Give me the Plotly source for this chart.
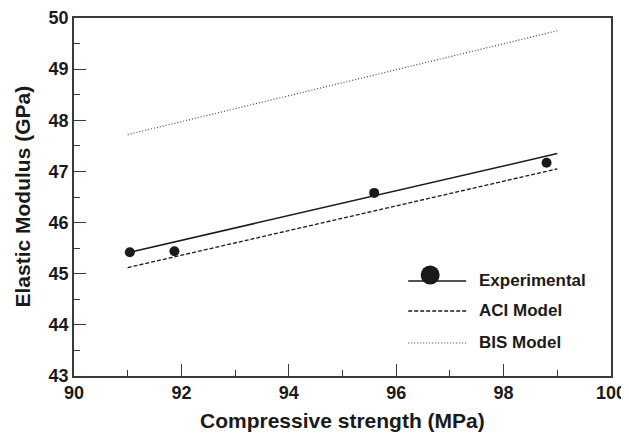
import plotly.graph_objects as go

# Data
exp_x = [91.04, 91.87, 95.59, 98.8]
exp_y = [45.42, 45.44, 46.58, 47.17]

fit_x = [91.0, 99.0]
fit_y = [45.41, 47.35]

aci_x = [91.0, 99.0]
aci_y = [45.12, 47.05]

bis_x = [91.0, 99.0]
bis_y = [47.72, 49.75]

legend_names = ["Experimental", "ACI Model", "BIS Model"]
x_title = "Compressive strength (MPa)"
y_title = "Elastic Modulus (GPa)"

FONT = "Liberation Sans, Arial, sans-serif"
INK = "#1a1a1a"

fig = go.Figure()
fig.add_trace(go.Scatter(x=fit_x, y=fit_y, mode="lines",
                         line=dict(color=INK, width=1.5), showlegend=False))
fig.add_trace(go.Scatter(x=aci_x, y=aci_y, mode="lines",
                         line=dict(color=INK, width=1.3, dash="4px,2px"), showlegend=False))
fig.add_trace(go.Scatter(x=bis_x, y=bis_y, mode="lines",
                         line=dict(color="#444444", width=1.2, dash="1px,2px"), showlegend=False))
fig.add_trace(go.Scatter(x=exp_x, y=exp_y, mode="markers",
                         marker=dict(color=INK, size=10), showlegend=False))

# Plot-area geometry in window pixels (page body has an 8px margin)
L, R, T, B = 73.5, 611, 18, 376
W, H = R - L, B - T
def px(x): return (x - L) / W
def py(y): return (B - y) / H

rows = [281, 311, 343]
dashes = ["solid", "4px,2px", "1px,2px"]
colors = [INK, INK, "#444444"]
widths = [1.5, 1.3, 1.2]
for name, yr, d, c, w in zip(legend_names, rows, dashes, colors, widths):
    fig.add_shape(type="line", xref="paper", yref="paper",
                  x0=px(408), x1=px(466), y0=py(yr), y1=py(yr),
                  line=dict(color=c, width=w, dash=d))
    fig.add_annotation(xref="paper", yref="paper", x=px(477), y=py(yr - 1),
                       text=name, showarrow=False,
                       xanchor="left", yanchor="middle",
                       font=dict(family=FONT, size=17, color=INK, weight="bold"))
fig.add_shape(type="circle", xref="paper", yref="paper",
              xsizemode="pixel", ysizemode="pixel",
              xanchor=px(430), yanchor=py(275),
              x0=-9.5, x1=9.5, y0=-9.5, y1=9.5,
              fillcolor=INK, line=dict(color=INK, width=0))

# Axis titles
fig.add_annotation(xref="paper", yref="paper", x=0.5, y=py(420),
                   text=x_title, showarrow=False, xanchor="center", yanchor="middle",
                   font=dict(family=FONT, size=21, color=INK, weight="bold"))
fig.add_annotation(xref="paper", yref="paper", x=px(21), y=0.5,
                   text=y_title, showarrow=False, textangle=-90,
                   xanchor="center", yanchor="middle",
                   font=dict(family=FONT, size=21, color=INK, weight="bold"))

axis_common = dict(
    showgrid=False, zeroline=False, showline=True, mirror=True,
    linecolor="#3a3a3a", linewidth=1.5, automargin=False,
    ticks="inside", ticklen=12, tickwidth=1.2, tickcolor="#3a3a3a",
    tickfont=dict(family=FONT, size=18, color=INK, weight="bold"),
)
fig.update_xaxes(range=[90, 100], dtick=2, tick0=90,
                 minor=dict(dtick=1, ticks="inside", ticklen=6, tickcolor="#3a3a3a", tickwidth=1.2),
                 **axis_common)
fig.update_yaxes(range=[43, 50], dtick=1, tick0=43,
                 minor=dict(dtick=0.5, ticks="inside", ticklen=6, tickcolor="#3a3a3a", tickwidth=1.2),
                 **axis_common)

fig.update_layout(width=640, height=434, plot_bgcolor="white", paper_bgcolor="white",
                  margin=dict(l=65.5, r=37, t=10, b=66), showlegend=False)

fig.write_html("out.html")
